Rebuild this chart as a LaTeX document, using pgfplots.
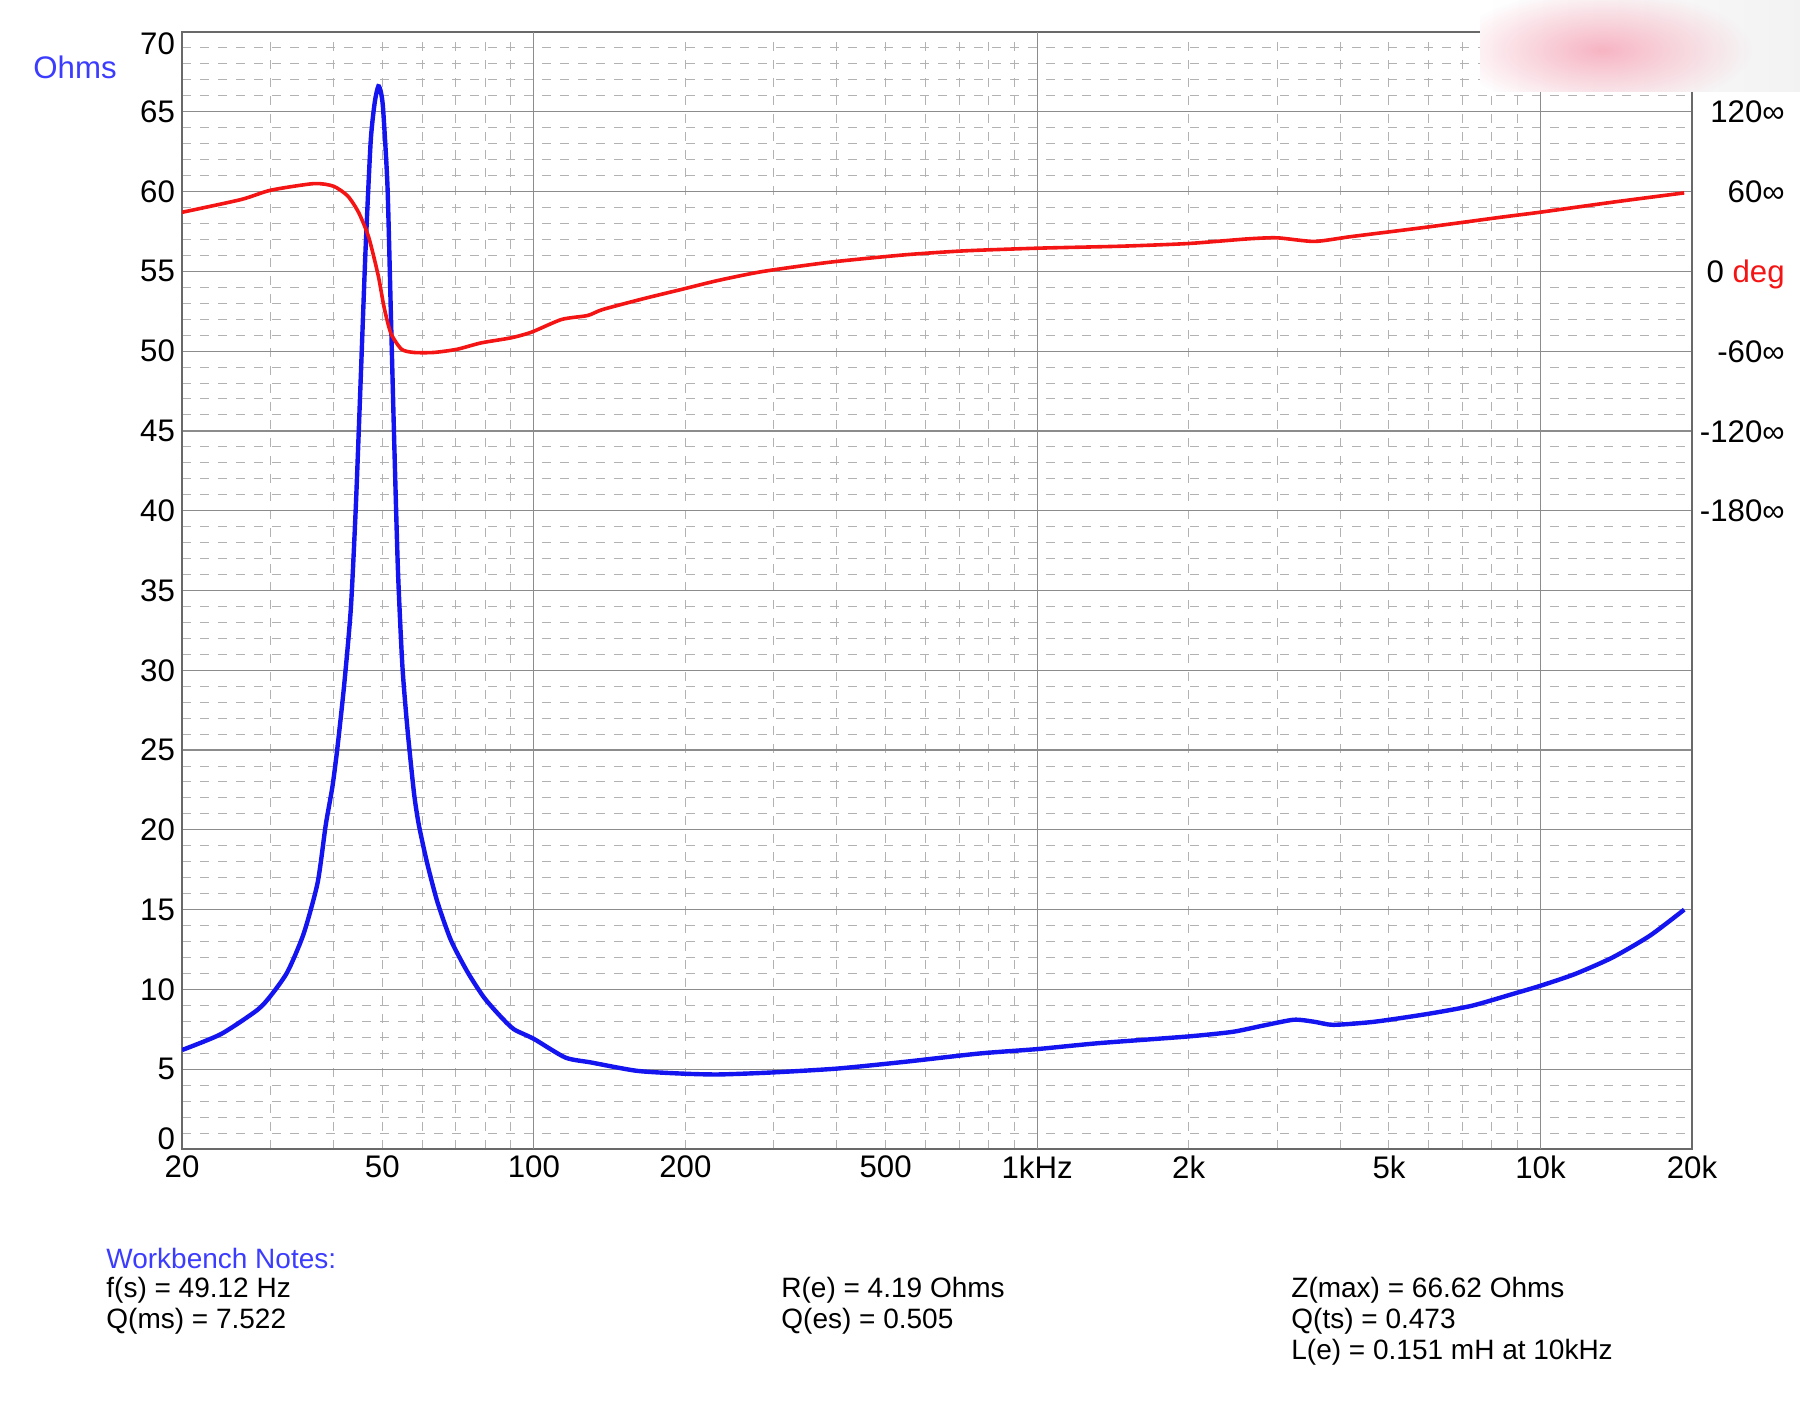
\documentclass[border=0pt]{standalone}
\usepackage{fontspec}
\setmainfont{Liberation Sans}
\usepackage{pgfplots}
\usepackage{pgfplotstable}
\pgfplotsset{compat=1.18}
\usetikzlibrary{fadings}
\definecolor{zblue}{RGB}{20,20,240}
\definecolor{pred}{RGB}{245,20,20}
\definecolor{lblue}{RGB}{60,60,255}
\definecolor{majgrid}{RGB}{140,140,140}
\definecolor{mingrid}{RGB}{178,178,178}
\definecolor{framec}{RGB}{105,105,105}
\definecolor{blobpink}{RGB}{247,180,195}
\tikzfading[name=blob, inner color=transparent!0, outer color=transparent!100]

\pgfplotstableread{
f z
20 6.2
23.9 7.2
28.2 8.7
30 9.6
32.4 11.1
34.9 13.5
37.2 16.7
38.6 20.3
39.8 22.7
40.7 25.1
42.0 29.1
43.3 33.9
44.3 40.3
45.3 48.3
46.3 56.3
47.4 63.1
48.3 65.6
49.1 66.6
49.7 66.2
50.2 65.1
51.2 60.3
52.0 52.3
52.8 44.3
53.7 36.3
54.8 30.3
56.1 26.3
57.8 22.3
59.1 20.3
61.4 17.9
64.3 15.5
68.4 13.1
73.8 11.1
79.6 9.5
85.9 8.3
91.3 7.5
100 6.9
115.5 5.73
130 5.42
160 4.90
195 4.73
232 4.67
295 4.79
401 5.04
545 5.46
766 5.98
1000 6.26
1323 6.63
1992 7.05
2444 7.34
2800 7.72
3236 8.10
3556 7.97
3874 7.78
4668 7.97
5932 8.45
7293 8.97
8932 9.77
10000 10.23
11700 10.96
13900 12.0
16500 13.37
19300 15.0
}\imp

\pgfplotstableread{
f p
20 44.4
26.2 54
30 61
36.6 66
40 64
42.7 56.6
44.9 44
47.0 25.4
49.1 -3.6
50.4 -27
52.0 -46.6
54.6 -58.6
57.8 -61
63.3 -61
70.4 -58.6
78.6 -53.8
90.1 -50
99 -45.7
113.5 -36.2
127.9 -33.2
137 -28.7
165 -20.6
196 -13.7
232 -6.9
285 -0.1
388 6.9
545 12.4
716 15.4
1000 17.4
1465 18.9
1992 20.9
2617 24.4
2999 25.2
3556 22.5
4218 26.2
5932 33.2
8343 40.7
10000 44.5
13900 52
19300 59
}\phase

\begin{document}
\begin{tikzpicture}
\useasboundingbox (0,0) rectangle (900pt,703pt);
\begin{axis}[
  at={(91pt,128.5pt)}, anchor=south west,
  scale only axis, width=755pt, height=558.5pt,
  clip mode=individual,
  xmode=log, log basis x=10,
  xmin=20, xmax=20000, ymin=0, ymax=70,
  xtick={20,50,100,200,500,1000,2000,5000,10000,20000},
  xticklabels={20,50,100,200,500,1kHz,2k,5k,10k,20k},
  minor xtick={30,40,50,60,70,80,90,200,300,400,500,600,700,800,900,2000,3000,4000,5000,6000,7000,8000,9000},
  extra x ticks={100,1000,10000}, extra x tick labels={},
  extra x tick style={grid=major},
  ytick={0,5,...,70}, minor ytick={0,1,...,70},
  yticklabels={,5,10,15,20,25,30,35,40,45,50,55,60,65,},
  xmajorgrids=false, xminorgrids=true, ymajorgrids=true, yminorgrids=true,
  major grid style={solid, majgrid, line width=0.6pt},
  minor grid style={mingrid, line width=0.5pt, dash pattern=on 4.5pt off 4.5pt},
  major tick length=0pt, minor tick length=0pt,
  axis line style={framec, line width=1pt},
  tick label style={font=\fontsize{15.6}{18}\selectfont},
  /pgf/number format/assume math mode=true,
]
\addplot[zblue, line width=2.2pt, smooth, tension=0.4] table[x=f, y=z] {\imp};
\node[anchor=east, font=\fontsize{15.6}{18}\selectfont, yshift=5.2pt] at (axis cs:20,0) {0};
\node[anchor=east, font=\fontsize{15.6}{18}\selectfont, yshift=-5.7pt] at (axis cs:20,70) {70};
\end{axis}
\begin{axis}[
  at={(91pt,128.5pt)}, anchor=south west,
  scale only axis, width=755pt, height=558.5pt,
  xmode=log, log basis x=10,
  xmin=20, xmax=20000, ymin=-660, ymax=180,
  axis x line=none, axis y line*=right,
  y axis line style={draw=none},
  ytick={-180,-120,-60,0,60,120},
  yticklabels={-180∞,-120∞,-60∞,{0 \textcolor{pred}{deg}},60∞,120∞},
  major tick length=0pt,
  yticklabel style={anchor=east, inner sep=0pt, xshift=46.5pt,
    font=\fontsize{15.6}{18}\selectfont, text height=11.2pt, text depth=0pt},
]
\addplot[pred, line width=1.8pt, smooth, tension=0.4] table[x=f, y=p] {\phase};
\end{axis}
% watermark box
\begin{scope}
\clip (740pt,657pt) rectangle (900pt,703pt);
\shade[left color=white, right color=white!90!gray] (740pt,657pt) rectangle (900pt,703pt);
\fill[blobpink, path fading=blob] (801pt,678pt) ellipse (75pt and 30pt);
\end{scope}
\node[text=lblue, font=\fontsize{15.6}{18}\selectfont] at (37.5pt,669.5pt) {Ohms};
\begin{scope}[every node/.style={anchor=west, inner sep=0pt, font=\fontsize{14}{17}\selectfont}]
\node[text=lblue] at (53pt,73.5pt) {Workbench Notes:};
\node at (53pt,58pt) {f(s) = 49.12 Hz};
\node at (53pt,42.5pt) {Q(ms) = 7.522};
\node at (390.5pt,58pt) {R(e) = 4.19 Ohms};
\node at (390.5pt,42.5pt) {Q(es) = 0.505};
\node at (645.5pt,58pt) {Z(max) = 66.62 Ohms};
\node at (645.5pt,42.5pt) {Q(ts) = 0.473};
\node at (645.5pt,27pt) {L(e) = 0.151 mH at 10kHz};
\end{scope}
\end{tikzpicture}
\end{document}
